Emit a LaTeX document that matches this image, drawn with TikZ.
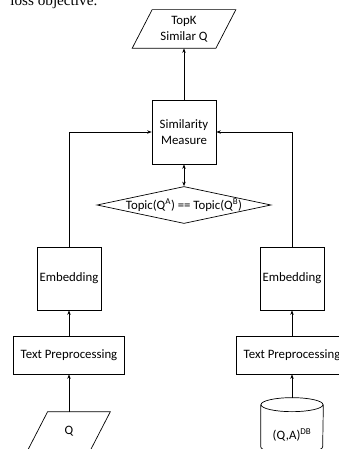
\documentclass[tikz,border=0pt]{standalone}
\usepackage{fontspec}
\setmainfont{Carlito}
\newfontfamily\timesfont{Liberation Serif}
\usetikzlibrary{arrows.meta,calc,shapes.geometric}

\begin{document}
\begin{tikzpicture}[x=1pt, y=-1pt, >={Stealth[length=4.5pt,width=3.5pt]}, line width=0.7pt,
    every node/.style={font=\fontsize{12.8}{15.5}\selectfont, inner sep=0pt},
    box/.style={draw, align=center},
    io/.style={align=center}]
    \useasboundingbox (0,0) rectangle (339,449);
    \clip (0,0) rectangle (339,449);

    % 上方正文残行
    \node[anchor=base west, font=\timesfont\fontsize{15.2}{18}\selectfont] (prevtext) at (10,6) {loss objective.};

    % 输出
    \node[io, minimum width=83pt, minimum height=38pt] (topk) at (184,29) {TopK\\Similar Q};
    \draw ($(topk.south west)+(-10,0)$) -- ($(topk.south east)+(-10,0)$)
        -- ($(topk.north east)+(10,0)$) -- ($(topk.north west)+(10,0)$) -- cycle;

    % 相似度与主题判断
    \node[box, minimum width=64pt, minimum height=64pt] (sim) at (184,132) {Similarity\\Measure};
    \node[diamond, draw, minimum width=174pt, minimum height=37pt] (topic) at (184,205) {};
    \node (topictxt) at (topic.center) {Topic(Q\textsuperscript{A}) == Topic(Q\textsuperscript{B})};

    % 左侧：查询
    \node[box, minimum width=64pt, minimum height=63pt] (embl) at (69,278.5) {Embedding};
    \node[box, minimum width=111pt, minimum height=38pt] (tpl) at (69,355) {Text Preprocessing};
    \node[io, minimum width=62pt, minimum height=38pt] (q) at (69,431) {Q};
    \draw ($(q.south west)+(-10,0)$) -- ($(q.south east)+(-10,0)$)
        -- ($(q.north east)+(10,0)$) -- ($(q.north west)+(10,0)$) -- cycle;

    % 右侧：数据库
    \node[box, minimum width=64pt, minimum height=63pt] (embr) at (292,278.5) {Embedding};
    \node[box, minimum width=111pt, minimum height=38pt] (tpr) at (292,355) {Text Preprocessing};
    \node[minimum width=62pt, minimum height=74pt] (db) at (292,435) {(Q,A)\textsuperscript{DB}};
    \draw ($(db.north)+(0,7)$) ellipse [x radius=31, y radius=7];
    \draw ($(db.north west)+(0,7)$) -- ($(db.north west)+(0,49)$)
        arc[start angle=180, end angle=0, x radius=31, y radius=7] -- ($(db.north east)+(0,7)$);

    % 连线
    \draw[->] (q.north) -- (tpl.south);
    \draw[->] (tpl.north) -- (embl.south);
    \draw[->] (embl.north) |- (sim.west);
    \draw[->] (db.north) -- (tpr.south);
    \draw[->] (tpr.north) -- (embr.south);
    \draw[->] (embr.north) |- (sim.east);
    \draw[<->] (sim.south) -- (topic.north);
    \draw[->] (sim.north) -- (topk.south);
\end{tikzpicture}
\end{document}
